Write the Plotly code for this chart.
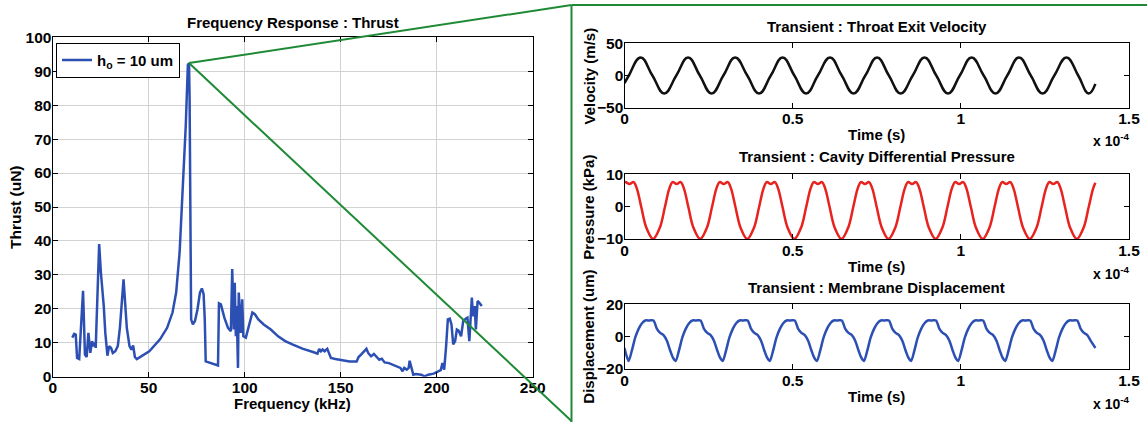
import plotly.graph_objects as go

# ---------------- data: frequency response (kHz, uN) ----------------
freq_khz = [10.2, 11.2, 12.0, 12.7, 13.8, 15.8, 16.8, 17.7, 18.6, 19.6, 20.5, 21.2, 22.0, 22.4,
            24.2, 25.1, 26.6, 27.4, 28.5, 29.4, 30.4, 31.3, 32.6, 33.9, 35.0, 36.0, 36.9, 37.6,
            38.6, 40.0, 41.0, 41.9, 42.8, 43.8, 50.3, 55.9, 59.6, 62.4, 64.3, 66.1, 68.0, 69.3,
            70.4, 71.0, 71.3, 72.1, 73.0, 74.1, 75.4, 76.7, 77.7, 78.6, 79.2, 79.7, 86.1, 86.6,
            87.6, 89.4, 91.3, 92.8, 93.5, 94.3, 94.8, 95.4, 95.8, 96.5, 96.9, 97.4, 98.0, 98.7,
            99.3, 100.6, 102.5, 104.0, 105.3, 107.1, 109.9, 113.6, 117.4, 121.1, 124.8, 130.4,
            136.0, 137.9, 138.8, 139.7, 140.6, 141.6, 143.0, 143.8, 144.9, 147.2, 150.9, 154.6,
            158.3, 159.3, 160.6, 162.1, 163.4, 164.3, 165.8, 167.3, 168.6, 170.1, 171.4, 172.9,
            175.1, 177.0, 178.8, 181.1, 182.2, 183.1, 184.4, 185.4, 185.9, 186.7, 187.8, 189.1,
            191.9, 193.7, 195.6, 198.4, 200.3, 202.1, 203.0, 203.9, 204.9, 205.8, 206.8, 207.7,
            208.6, 209.6, 210.5, 211.4, 212.7, 213.8, 215.1, 216.0, 217.0, 217.5, 218.3, 218.9,
            219.8, 220.4, 221.3, 222.2, 223.5]
thrust_un = [11.5, 12.6, 12.4, 5.5, 5.2, 25.3, 6.5, 5.8, 12.9, 7.0, 10.5, 9.0, 10.0, 8.5,
             39.1, 30.7, 20.8, 12.9, 6.2, 9.0, 8.5, 7.0, 7.5, 9.0, 14.4, 22.8, 28.7, 22.8,
             14.4, 9.0, 8.0, 9.2, 5.8, 5.2, 7.5, 11.0, 14.4, 18.9, 24.8, 36.6, 56.4, 74.0,
             91.9, 92.4, 82.0, 16.9, 15.4, 16.4, 19.8, 24.8, 26.0, 24.3, 16.9, 4.5, 3.3, 21.6,
             21.3, 17.4, 14.4, 13.4, 31.7, 13.9, 27.7, 11.9, 20.8, 2.6, 24.8, 16.9, 12.9, 22.8,
             11.9, 11.5, 15.4, 18.9, 18.4, 16.9, 15.4, 13.9, 11.9, 10.5, 9.5, 8.2,
             7.2, 6.8, 8.2, 7.5, 8.0, 7.5, 8.2, 6.8, 5.5, 5.2, 4.8, 4.5,
             4.5, 5.8, 6.5, 7.5, 8.2, 7.0, 6.0, 6.7, 5.8, 5.0, 5.3, 4.2,
             4.0, 3.6, 3.1, 2.6, 1.6, 2.6, 2.1, 2.6, 4.7, 3.1, 0.6, 0.8,
             0.6, 0.1, 0.6, 0.9, 1.3, 1.9, 4.0, 2.1, 9.0, 16.9, 17.1, 15.4,
             9.5, 10.5, 13.9, 13.6, 11.9, 16.4, 17.1, 17.4, 10.5, 17.1, 23.3, 17.8,
             20.8, 13.9, 22.3, 21.8, 20.8]

# ---------------- data: transients (time in units of 1e-4 s) ----------------
t_velocity = [0, 0.013, 0.048, 0.083, 0.118, 0.154, 0.189, 0.224, 0.259, 0.294, 0.329, 0.365,
              0.400, 0.435, 0.470, 0.505, 0.540, 0.575, 0.611, 0.646, 0.681, 0.716, 0.751,
              0.786, 0.821, 0.857, 0.892, 0.927, 0.962, 0.997, 1.032, 1.068, 1.103, 1.138,
              1.173, 1.208, 1.243, 1.278, 1.314, 1.349, 1.380, 1.400]
velocity_ms = [-12, 0, 28, 0, -28, 0, 28, 0, -28, 0, 28, 0,
               -28, 0, 28, 0, -28, 0, 28, 0, -28, 0, 28,
               0, -28, 0, 28, 0, -28, 0, 28, 0, -28, 0,
               28, 0, -28, 0, 28, 0, -28, -13]

t_pressure = [0, 0.003, 0.015, 0.027, 0.037, 0.050, 0.065,
              0.085, 0.105, 0.120, 0.133, 0.143, 0.155, 0.167, 0.177, 0.190, 0.205,
              0.225, 0.245, 0.260, 0.273, 0.283, 0.295, 0.307, 0.317, 0.330, 0.345,
              0.365, 0.385, 0.400, 0.413, 0.423, 0.435, 0.447, 0.457, 0.470, 0.485,
              0.505, 0.525, 0.540, 0.553, 0.563, 0.575, 0.587, 0.597, 0.610, 0.625,
              0.645, 0.665, 0.680, 0.693, 0.703, 0.715, 0.727, 0.737, 0.750, 0.765,
              0.785, 0.805, 0.820, 0.833, 0.843, 0.855, 0.867, 0.877, 0.890, 0.905,
              0.925, 0.945, 0.960, 0.973, 0.983, 0.995, 1.007, 1.017, 1.030, 1.045,
              1.065, 1.085, 1.100, 1.113, 1.123, 1.135, 1.147, 1.157, 1.170, 1.185,
              1.205, 1.225, 1.240, 1.253, 1.263, 1.275, 1.287, 1.297, 1.310, 1.325,
              1.345, 1.365, 1.380, 1.393, 1.400]
pressure_kpa = [7.4, 7.6, 7.0, 7.6, 5.5, -0.2, -6.5,
                -10, -6.5, -0.2, 5.5, 7.6, 7.0, 7.6, 5.5, -0.2, -6.5,
                -10, -6.5, -0.2, 5.5, 7.6, 7.0, 7.6, 5.5, -0.2, -6.5,
                -10, -6.5, -0.2, 5.5, 7.6, 7.0, 7.6, 5.5, -0.2, -6.5,
                -10, -6.5, -0.2, 5.5, 7.6, 7.0, 7.6, 5.5, -0.2, -6.5,
                -10, -6.5, -0.2, 5.5, 7.6, 7.0, 7.6, 5.5, -0.2, -6.5,
                -10, -6.5, -0.2, 5.5, 7.6, 7.0, 7.6, 5.5, -0.2, -6.5,
                -10, -6.5, -0.2, 5.5, 7.6, 7.0, 7.6, 5.5, -0.2, -6.5,
                -10, -6.5, -0.2, 5.5, 7.6, 7.0, 7.6, 5.5, -0.2, -6.5,
                -10, -6.5, -0.2, 5.5, 7.6, 7.0, 7.6, 5.5, -0.2, -6.5,
                -10, -6.5, -0.2, 5.5, 7.4]

t_displacement = [0,
                  0.012, 0.022, 0.032, 0.042, 0.052, 0.062, 0.074, 0.086, 0.096, 0.106, 0.116, 0.126, 0.136, 0.144,
                  0.152, 0.162, 0.172, 0.182, 0.192, 0.202, 0.214, 0.226, 0.236, 0.246, 0.256, 0.266, 0.276, 0.284,
                  0.292, 0.302, 0.312, 0.322, 0.332, 0.342, 0.354, 0.366, 0.376, 0.386, 0.396, 0.406, 0.416, 0.424,
                  0.432, 0.442, 0.452, 0.462, 0.472, 0.482, 0.494, 0.506, 0.516, 0.526, 0.536, 0.546, 0.556, 0.564,
                  0.572, 0.582, 0.592, 0.602, 0.612, 0.622, 0.634, 0.646, 0.656, 0.666, 0.676, 0.686, 0.696, 0.704,
                  0.712, 0.722, 0.732, 0.742, 0.752, 0.762, 0.774, 0.786, 0.796, 0.806, 0.816, 0.826, 0.836, 0.844,
                  0.852, 0.862, 0.872, 0.882, 0.892, 0.902, 0.914, 0.926, 0.936, 0.946, 0.956, 0.966, 0.976, 0.984,
                  0.992, 1.002, 1.012, 1.022, 1.032, 1.042, 1.054, 1.066, 1.076, 1.086, 1.096, 1.106, 1.116, 1.124,
                  1.132, 1.142, 1.152, 1.162, 1.172, 1.182, 1.194, 1.206, 1.216, 1.226, 1.236, 1.246, 1.256, 1.264,
                  1.272, 1.282, 1.292, 1.302, 1.312, 1.322, 1.334, 1.346, 1.356, 1.366, 1.376, 1.386, 1.400]
displacement_um = [-7,
                   -15, -8.5, -0.5, 4.8, 8.3, 10, 10, 10, 5, 2.3, 1, -2.5, -8.7, -13,
                   -15, -8.5, -0.5, 4.8, 8.3, 10, 10, 10, 5, 2.3, 1, -2.5, -8.7, -13,
                   -15, -8.5, -0.5, 4.8, 8.3, 10, 10, 10, 5, 2.3, 1, -2.5, -8.7, -13,
                   -15, -8.5, -0.5, 4.8, 8.3, 10, 10, 10, 5, 2.3, 1, -2.5, -8.7, -13,
                   -15, -8.5, -0.5, 4.8, 8.3, 10, 10, 10, 5, 2.3, 1, -2.5, -8.7, -13,
                   -15, -8.5, -0.5, 4.8, 8.3, 10, 10, 10, 5, 2.3, 1, -2.5, -8.7, -13,
                   -15, -8.5, -0.5, 4.8, 8.3, 10, 10, 10, 5, 2.3, 1, -2.5, -8.7, -13,
                   -15, -8.5, -0.5, 4.8, 8.3, 10, 10, 10, 5, 2.3, 1, -2.5, -8.7, -13,
                   -15, -8.5, -0.5, 4.8, 8.3, 10, 10, 10, 5, 2.3, 1, -2.5, -8.7, -13,
                   -15, -8.5, -0.5, 4.8, 8.3, 10, 10, 10, 5, 2.3, 1, -2.5, -7]

time_ticks = [0, 0.5, 1, 1.5]
time_tick_labels = ["0", "0.5", "1", "1.5"]

# ---------------- layout geometry ----------------
W, H = 1148, 422
FONT = "Liberation Sans, Arial, Helvetica, sans-serif"
BLUE = "#2c4fb3"
RED = "#e8221e"
GREEN = "#1f8a36"


def px_x(p):
    return p / W


def px_y(p):
    return 1 - p / H


left_dom_x = [px_x(52.7), px_x(532.7)]
left_dom_y = [px_y(376.7), px_y(37.3)]
right_dom_x = [px_x(624.5), px_x(1129)]
right_boxes = [(43.3, 107.7), (174.3, 239.0), (304.3, 369.0)]
right_dom_y = [[px_y(b), px_y(t)] for t, b in right_boxes]

fig = go.Figure()

fig.add_trace(go.Scatter(x=freq_khz, y=thrust_un, mode="lines", name="h<sub>o</sub> = 10 um",
                         line=dict(color=BLUE, width=2.5), xaxis="x", yaxis="y"))
fig.add_trace(go.Scatter(x=t_velocity, y=velocity_ms, mode="lines", showlegend=False,
                         line=dict(color="#111111", width=2.5, shape="spline", smoothing=1.3),
                         xaxis="x2", yaxis="y2"))
fig.add_trace(go.Scatter(x=t_pressure, y=pressure_kpa, mode="lines", showlegend=False,
                         line=dict(color=RED, width=2.5, shape="spline", smoothing=1.0),
                         xaxis="x3", yaxis="y3"))
fig.add_trace(go.Scatter(x=t_displacement, y=displacement_um, mode="lines", showlegend=False,
                         line=dict(color=BLUE, width=2.5, shape="spline", smoothing=0.8),
                         xaxis="x4", yaxis="y4"))

axis_common = dict(showline=True, linecolor="black", linewidth=1.3, mirror="ticks",
                   ticks="inside", ticklen=5, tickcolor="black", tickwidth=1,
                   zeroline=False, automargin=False, ticklabelstandoff=-3,
                   tickfont=dict(family=FONT, size=15.5, color="black", weight="bold"))

layout = dict(
    width=W, height=H, margin=dict(l=0, r=0, t=0, b=0),
    paper_bgcolor="white", plot_bgcolor="white",
    font=dict(family=FONT, size=15, color="black", weight="bold"),
    showlegend=True,
    legend=dict(x=px_x(56), y=px_y(42.7), xanchor="left", yanchor="top",
                bgcolor="white", bordercolor="black", borderwidth=1,
                font=dict(family=FONT, size=15, color="black", weight="bold"),
                itemwidth=30, tracegroupgap=0),
    xaxis=dict(domain=left_dom_x, anchor="y", range=[0, 250], dtick=50, tick0=0,
               showgrid=True, gridcolor="#d2d2d2", gridwidth=1, **axis_common),
    yaxis=dict(domain=left_dom_y, anchor="x", range=[0, 100], dtick=10, tick0=0,
               showgrid=True, gridcolor="#d2d2d2", gridwidth=1, **axis_common),
)
y_ranges = [[-50, 50], [-10, 10], [-20, 20]]
y_dticks = [50, 10, 20]
for i in range(3):
    n = i + 2
    layout[f"xaxis{n}"] = dict(domain=right_dom_x, anchor=f"y{n}", range=[0, 1.5],
                               tickvals=time_ticks, ticktext=time_tick_labels,
                               showgrid=False, **axis_common)
    layout[f"yaxis{n}"] = dict(domain=right_dom_y[i], anchor=f"x{n}", range=y_ranges[i],
                               dtick=y_dticks[i], tick0=0, showgrid=False, **axis_common)
fig.update_layout(**layout)


def ann(text, x, y, size=15, angle=0, xanchor="center", yanchor="middle"):
    fig.add_annotation(text=text, x=px_x(x), y=px_y(y), xref="paper", yref="paper",
                       showarrow=False, textangle=angle, xanchor=xanchor, yanchor=yanchor,
                       font=dict(family=FONT, size=size, color="black", weight="bold"))


# titles and axis labels
ann("Frequency Response : Thrust", 292.7, 22.7, size=15)
ann("Frequency (kHz)", 292.7, 403, size=15)
ann("Thrust (uN)", 15, 207, size=15.5, angle=-90)

right_titles = ["Transient : Throat Exit Velocity", "Transient : Cavity Differential Pressure",
                "Transient : Membrane Displacement"]
right_ylabels = ["Velocity (m/s)", "Pressure (kPa)", "Displacement (um)"]
title_y = [26.7, 156.7, 287.3]
time_y = [135, 266.7, 396.7]
exp_y = [140, 273, 403]
xc = (624.5 + 1129) / 2
for i in range(3):
    t, b = right_boxes[i]
    ann(right_titles[i], xc, title_y[i], size=15)
    ann("Time (s)", xc, time_y[i], size=15)
    ann("x 10<sup>-4</sup>", 1111, exp_y[i], size=14)
    ann(right_ylabels[i], 589, (t + b) / 2, size=15, angle=-90)

# zoom-callout green lines, anchored to the resonance peak
ipk = max(range(len(thrust_un)), key=lambda k: thrust_un[k])
pk_x = left_dom_x[0] + freq_khz[ipk] / 250 * (left_dom_x[1] - left_dom_x[0])
pk_y = left_dom_y[0] + thrust_un[ipk] / 100 * (left_dom_y[1] - left_dom_y[0])
box_l, box_t, box_b, box_r = px_x(571.5), px_y(5), px_y(421), px_x(1147)
green = dict(color=GREEN, width=2)
for (x0, y0, x1, y1) in [(pk_x, pk_y, box_l, box_t), (pk_x, pk_y, box_l, box_b),
                         (box_l, box_t, box_r, box_t), (box_l, box_t, box_l, px_y(422))]:
    fig.add_shape(type="line", xref="paper", yref="paper", x0=x0, y0=y0, x1=x1, y1=y1,
                  line=green, layer="above")

# the page's default 8px body margin would shift the whole figure; remove it
fig.write_html("out.html", config={"displayModeBar": False},
               post_script="document.body.style.margin='0px';")
